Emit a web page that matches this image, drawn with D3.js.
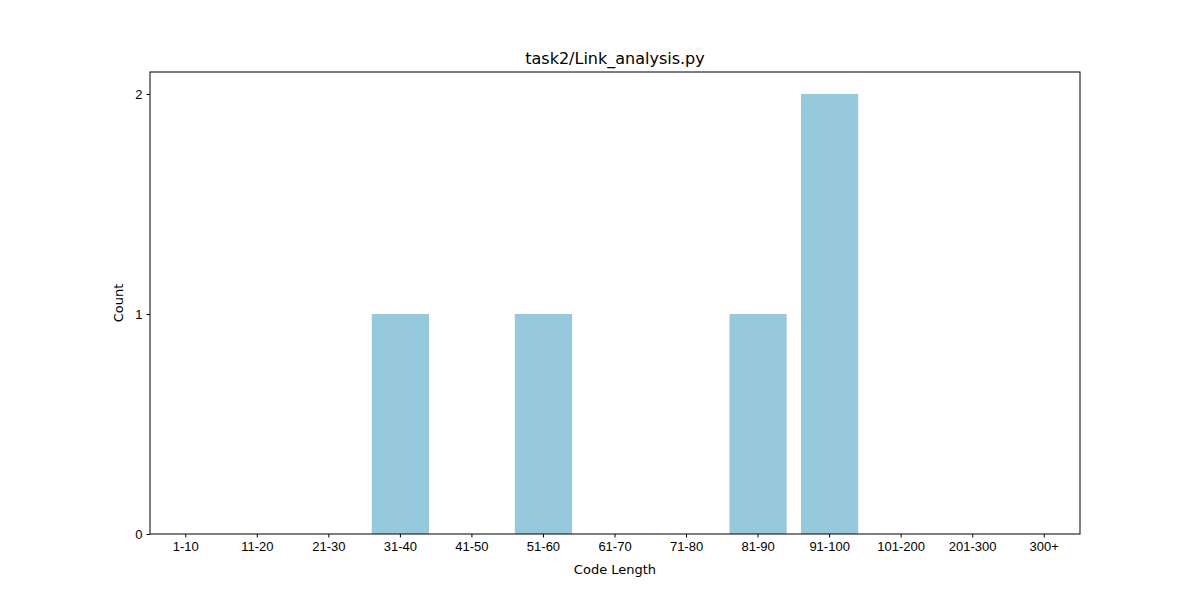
<!DOCTYPE html>
<html>
<meta charset="utf-8">
<head>
<script src="https://cdnjs.cloudflare.com/ajax/libs/d3/7.8.5/d3.min.js"></script>
<style>
body { margin: 0; background: #fff; font-family: "DejaVu Sans", sans-serif; }
.axis text { font-size: 13px; fill: #000; }
.axis .domain { display: none; }
</style>
</head>
<body>
<svg id="canvas" width="1200" height="600"></svg>
<script>
// bins of code length and their counts
var categories = ["1-10", "11-20", "21-30", "31-40", "41-50", "51-60", "61-70", "71-80", "81-90", "91-100", "101-200", "201-300", "300+"];
var counts = [0, 0, 0, 1, 0, 1, 0, 0, 1, 2, 0, 0, 0];
var yTicks = [0, 1, 2];

const margin = {left: 150, right: 120, top: 72, bottom: 66};
const w = 1200 - margin.left - margin.right;
const h = 600 - margin.top - margin.bottom;

const svg = d3.select('#canvas');
const g = svg.append('g').attr('transform', `translate(${margin.left},${margin.top})`);

const x = d3.scaleBand().domain(categories).range([0, w]).paddingInner(0.2).paddingOuter(0.1);
const y = d3.scaleLinear().domain([0, 2.1]).range([h, 0]);

g.selectAll('rect.bar')
    .data(counts)
    .join('rect')
    .attr('class', 'bar')
    .attr('x', (d, i) => x(categories[i]))
    .attr('y', d => y(d))
    .attr('width', x.bandwidth())
    .attr('height', d => h - y(d))
    .attr('fill', '#96c9dc');

g.append('g').attr('class', 'axis')
    .attr('transform', `translate(0,${h})`)
    .call(d3.axisBottom(x).tickSize(3.5).tickPadding(4));
g.append('g').attr('class', 'axis')
    .call(d3.axisLeft(y).tickValues(yTicks).tickFormat(d3.format('d')).tickSize(3.5).tickPadding(4));

// frame
g.append('rect').attr('width', w).attr('height', h)
    .attr('fill', 'none').attr('stroke', '#000').attr('stroke-width', 1);

svg.append('text').text('task2/Link_analysis.py')
    .attr('x', margin.left + w / 2).attr('y', 64)
    .attr('text-anchor', 'middle').style('font-size', '16px');
svg.append('text').text('Code Length')
    .attr('x', margin.left + w / 2).attr('y', 574)
    .attr('text-anchor', 'middle').style('font-size', '13px');
svg.append('text').text('Count')
    .attr('transform', `translate(123,${margin.top + h / 2}) rotate(-90)`)
    .attr('text-anchor', 'middle').style('font-size', '13px');
</script>
</body>
</html>
